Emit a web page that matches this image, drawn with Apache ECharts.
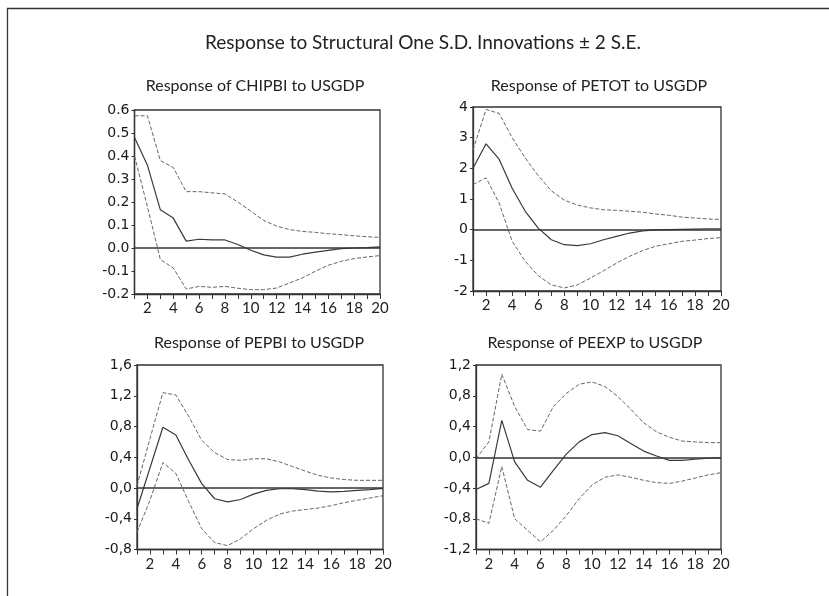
<!DOCTYPE html>
<html>
<head>
<meta charset="utf-8">
<script src="https://cdn.jsdelivr.net/npm/echarts@6/dist/echarts.min.js"></script>
<style>
  html, body { margin: 0; padding: 0; background: #fff; }
  #chart { width: 829px; height: 596px; }
</style>
</head>
<body>
<div id="chart"></div>
<script>
const periods = [1, 2, 3, 4, 5, 6, 7, 8, 9, 10, 11, 12, 13, 14, 15, 16, 17, 18, 19, 20]

// Response of CHIPBI to USGDP
const chipbiResp  = [0.48, 0.36, 0.166, 0.13, 0.03, 0.038, 0.035, 0.035, 0.015, -0.01, -0.03, -0.04, -0.04, -0.027, -0.018, -0.01, -0.003, 0.0, 0.002, 0.005]
const chipbiUpper = [0.575, 0.575, 0.38, 0.35, 0.245, 0.245, 0.24, 0.235, 0.2, 0.16, 0.12, 0.095, 0.08, 0.072, 0.068, 0.062, 0.058, 0.053, 0.049, 0.046]
const chipbiLower = [0.4, 0.18, -0.05, -0.087, -0.178, -0.167, -0.171, -0.167, -0.175, -0.181, -0.181, -0.174, -0.152, -0.13, -0.101, -0.075, -0.058, -0.046, -0.039, -0.033]

// Response of PETOT to USGDP
const petotResp  = [2.0, 2.8, 2.3, 1.35, 0.6, 0.05, -0.33, -0.49, -0.52, -0.46, -0.33, -0.22, -0.11, -0.04, -0.01, 0.0, 0.01, 0.02, 0.03, 0.03]
const petotUpper = [2.6, 3.92, 3.79, 3.0, 2.34, 1.76, 1.27, 0.96, 0.8, 0.71, 0.65, 0.63, 0.6, 0.57, 0.51, 0.47, 0.41, 0.38, 0.35, 0.33]
const petotLower = [1.47, 1.69, 0.87, -0.38, -1.03, -1.5, -1.8, -1.9, -1.8, -1.58, -1.34, -1.09, -0.87, -0.68, -0.54, -0.46, -0.38, -0.34, -0.29, -0.26]

// Response of PEPBI to USGDP
const pepbiResp  = [-0.27, 0.26, 0.79, 0.69, 0.36, 0.057, -0.14, -0.18, -0.15, -0.08, -0.03, -0.01, -0.01, -0.02, -0.04, -0.05, -0.045, -0.03, -0.02, -0.005]
const pepbiUpper = [0.03, 0.64, 1.24, 1.21, 0.93, 0.62, 0.46, 0.37, 0.36, 0.38, 0.38, 0.34, 0.28, 0.22, 0.165, 0.13, 0.11, 0.1, 0.1, 0.1]
const pepbiLower = [-0.575, -0.16, 0.33, 0.19, -0.18, -0.53, -0.71, -0.75, -0.66, -0.53, -0.42, -0.34, -0.3, -0.28, -0.26, -0.23, -0.19, -0.16, -0.13, -0.1]

// Response of PEEXP to USGDP
const peexpResp  = [-0.42, -0.34, 0.48, -0.06, -0.3, -0.39, -0.17, 0.04, 0.2, 0.295, 0.32, 0.28, 0.18, 0.08, 0.017, -0.04, -0.04, -0.026, -0.013, -0.004]
const peexpUpper = [-0.02, 0.2, 1.08, 0.66, 0.36, 0.34, 0.66, 0.83, 0.95, 0.98, 0.92, 0.79, 0.625, 0.45, 0.33, 0.26, 0.21, 0.2, 0.19, 0.19]
const peexpLower = [-0.8, -0.86, -0.12, -0.8, -0.95, -1.1, -0.95, -0.76, -0.54, -0.36, -0.26, -0.23, -0.26, -0.3, -0.33, -0.34, -0.31, -0.27, -0.23, -0.2]

const mainTitle = 'Response to Structural One S.D. Innovations ± 2 S.E.'
const panelTitles = ['Response of CHIPBI to USGDP', 'Response of PETOT to USGDP', 'Response of PEPBI to USGDP', 'Response of PEEXP to USGDP']

const titleFont = 'Lato'
const tickFont = 'DejaVu Sans'

// panel layout
const panels = [
    { left: 134.5, top: 110, width: 245.5, height: 184, min: -0.2, max: 0.6, interval: 0.1, fmt: 'dot1', tx: 255, ty: 86, data: [chipbiResp, chipbiUpper, chipbiLower] },
    { left: 473, top: 107, width: 248, height: 184, min: -2, max: 4, interval: 1, fmt: 'int', tx: 599, ty: 86, data: [petotResp, petotUpper, petotLower] },
    { left: 137, top: 365, width: 246, height: 184.5, min: -0.8, max: 1.6, interval: 0.4, fmt: 'comma1', tx: 259, ty: 343, data: [pepbiResp, pepbiUpper, pepbiLower] },
    { left: 476, top: 365, width: 245, height: 184.5, min: -1.2, max: 1.2, interval: 0.4, fmt: 'comma1', tx: 595, ty: 343, data: [peexpResp, peexpUpper, peexpLower] }
]

function fmtY(kind) {
    return (v) => {
        if (Math.abs(v) < 1e-9) v = 0
        if (kind === 'int') return String(Math.round(v))
        let s = v.toFixed(1)
        return kind === 'comma1' ? s.replace('.', ',') : s
    }
}

let chart = echarts.init(document.getElementById('chart'))

let grids = [], xAxes = [], yAxes = [], series = []
let graphics = [{
    type: 'rect',
    shape: { x: 7.5, y: 8.5, width: 830, height: 600 },
    style: { fill: 'none', stroke: '#333', lineWidth: 1.3 },
    silent: true
}, {
    type: 'text', x: 423, y: 43, silent: true,
    style: { text: mainTitle, textAlign: 'center', textVerticalAlign: 'middle', font: '19px Lato', fill: '#222' }
}]

panels.forEach((p, i) => {
    grids.push({
        left: p.left, top: p.top, width: p.width, height: p.height,
        show: true, borderColor: '#333', borderWidth: 1.3, backgroundColor: 'transparent'
    })
    graphics.push({
        type: 'text', x: p.tx, y: p.ty, silent: true,
        style: { text: panelTitles[i], textAlign: 'center', textVerticalAlign: 'middle', font: '16px Lato', fill: '#222' }
    })
    xAxes.push({
        type: 'value', gridIndex: i, min: 1, max: 20, interval: 1,
        axisLine: { show: true, onZero: false, lineStyle: { color: '#333', width: 1.3 } },
        axisTick: { show: true, inside: false, length: 5, lineStyle: { color: '#333' } },
        splitLine: { show: false },
        axisLabel: {
            margin: 7, fontFamily: titleFont, fontSize: 15, color: '#222',
            formatter: (v) => (v % 2 === 0 ? String(v) : '')
        }
    })
    yAxes.push({
        type: 'value', gridIndex: i, min: p.min, max: p.max, interval: p.interval,
        axisLine: { show: true, lineStyle: { color: '#333', width: 1.3 } },
        axisTick: { show: true, inside: false, length: 3, lineStyle: { color: '#333' } },
        splitLine: { show: false },
        axisLabel: { margin: 5, fontFamily: tickFont, fontSize: 14, color: '#1a1a1a', formatter: fmtY(p.fmt) }
    })
    let [resp, upper, lower] = p.data
    series.push({
        type: 'line', xAxisIndex: i, yAxisIndex: i, symbol: 'none',
        data: periods.map((t, k) => [t, resp[k]]),
        lineStyle: { color: '#3a3a3a', width: 1.2 },
        markLine: {
            silent: true, symbol: 'none', label: { show: false },
            lineStyle: { color: '#333', width: 1.5, type: 'solid' },
            data: [{ yAxis: 0 }]
        }
    })
    ;[upper, lower].forEach((band) => {
        series.push({
            type: 'line', xAxisIndex: i, yAxisIndex: i, symbol: 'none',
            data: periods.map((t, k) => [t, band[k]]),
            lineStyle: { color: '#666', width: 1, type: [4, 2] }
        })
    })
})

let option = {
    animation: false,
    backgroundColor: '#fff',
    grid: grids,
    xAxis: xAxes,
    yAxis: yAxes,
    series: series,
    graphic: graphics
}
chart.setOption(option)
</script>
</body>
</html>
